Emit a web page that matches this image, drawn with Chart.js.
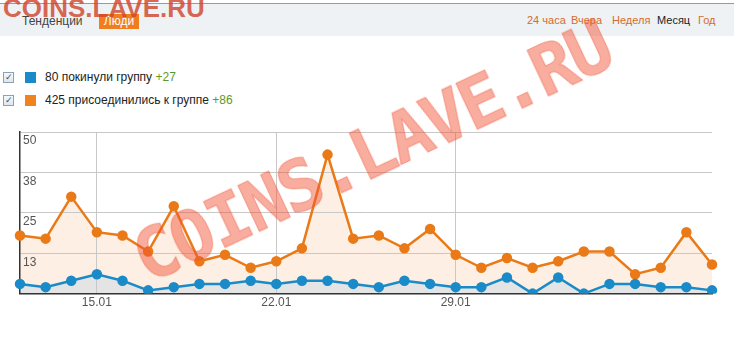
<!DOCTYPE html>
<html>
<head>
<meta charset="utf-8">
<script src="https://cdn.jsdelivr.net/npm/chart.js@4/dist/chart.umd.min.js"></script>
<style>
  html, body { margin:0; padding:0; background:#fff; width:737px; height:340px; overflow:hidden; font-family:"Liberation Sans", Arial, sans-serif; }
  #bar { position:absolute; left:0; top:3px; width:734px; height:32px; background:#eef2f4; border-top:1px solid #9a9a9a; }
  .t { position:absolute; font-size:12px; white-space:nowrap; }
  #trend { left:22px; top:14px; color:#444; }
  #people { left:99px; top:14px; width:40px; height:15px; background:#f07e1e; color:#fff; line-height:15px; text-align:center; }
  .lnk { top:14px; color:#d46c2e; font-size:11px; }
  .cb { position:absolute; left:3px; width:9px; height:9px; border:1px solid #8aa1b8; background:linear-gradient(#f6f8fa,#dfe6ec); font-size:9px; line-height:9px; text-align:center; color:#2b4f7a; }
  .sq { position:absolute; left:25px; width:11px; height:11px; }
  .lg { position:absolute; left:45px; font-size:12px; color:#222; white-space:nowrap; }
  .lg span { color:#5a9a2a; }
  #wrap { position:absolute; left:0; top:118px; width:737px; height:194px; }
  #wm1 { position:absolute; left:3px; top:-7px; font-family:"Liberation Sans", Arial, sans-serif; font-weight:bold; font-size:26px; color:rgba(208,70,45,0.82); }
  #wm2 { position:absolute; left:120px; top:225px; font-family:"DejaVu Sans Mono", monospace; font-weight:bold; font-size:70px; letter-spacing:-2.3px; color:rgba(240,80,50,0.47); transform:rotate(-25.1deg); transform-origin:0 0; white-space:nowrap; pointer-events:none; -webkit-text-stroke:1px rgba(240,80,50,0.47); }
</style>
</head>
<body>
<div id="bar"></div>
<div class="t" id="trend">Тенденции</div>
<div class="t" id="people">Люди</div>
<div class="t lnk" style="left:527px">24 часа</div>
<div class="t lnk" style="left:571px">Вчера</div>
<div class="t lnk" style="left:612px">Неделя</div>
<div class="t lnk" style="left:657px;color:#222">Месяц</div>
<div class="t lnk" style="left:698px">Год</div>

<div class="cb" style="top:72px">✓</div>
<div class="sq" style="top:72px;background:#1a8bc8"></div>
<div class="lg" style="top:70px">80 покинули группу <span>+27</span></div>
<div class="cb" style="top:95px">✓</div>
<div class="sq" style="top:95px;background:#f0831e"></div>
<div class="lg" style="top:93px">425 присоединились к группе <span>+86</span></div>

<div id="wrap"><canvas id="c"></canvas></div>
<div id="wm1">COINS.LAVE.RU</div>
<div id="wm2">COINS.LAVE.RU</div>

<script>
const dates = ['12.01','13.01','14.01','15.01','16.01','17.01','18.01','19.01','20.01','21.01','22.01','23.01','24.01','25.01','26.01','27.01','28.01','29.01','30.01','31.01','01.02','02.02','03.02','04.02','05.02','06.02','07.02','08.02'];
const leftGroup = [3,2,4,6,4,1,2,3,3,4,3,4,4,3,2,4,3,2,2,5,0,5,0,3,3,2,2,1];
const joinedGroup = [18,17,30,19,18,13,27,10,12,8,10,14,43,17,18,14,20,12,8,11,8,10,13,13,6,8,19,9];
const shownDates = ['15.01','22.01','29.01'];
const yMax = 50;
const yStep = 12.5;

new Chart(document.getElementById('c'), {
  type: 'line',
  data: {
    labels: dates,
    datasets: [
      {
        label: 'покинули группу',
        data: leftGroup,
        borderColor: '#1a8bc8',
        backgroundColor: '#e4e4e4',
        fill: 'origin',
        borderWidth: 2.5,
        pointRadius: 4,
        pointBackgroundColor: '#1a8bc8',
        pointBorderColor: '#1a8bc8',
        tension: 0
      },
      {
        label: 'присоединились к группе',
        data: joinedGroup,
        borderColor: '#e97a17',
        backgroundColor: '#fdefe3',
        fill: 'origin',
        borderWidth: 2.5,
        pointRadius: 4,
        pointBackgroundColor: '#e97a17',
        pointBorderColor: '#e97a17',
        tension: 0
      }
    ]
  },
  options: {
    responsive: true,
    maintainAspectRatio: false,
    animation: false,
    layout: { padding: { left: 14, right: 25, top: 14, bottom: 0 } },
    plugins: {
      legend: { display: false },
      tooltip: { enabled: false },
      filler: { drawTime: 'beforeDraw' }
    },
    scales: {
      x: {
        offset: false,
        grid: {
          drawTicks: false,
          color: (ctx) => (ctx.tick && shownDates.includes(dates[ctx.index])) ? '#c8c8c8' : 'rgba(0,0,0,0)'
        },
        border: { color: '#333', width: 1.5 },
        ticks: {
          autoSkip: false,
          maxRotation: 0,
          padding: 2,
          color: '#555',
          font: { family: 'Liberation Sans', size: 12 },
          callback: (v, i) => shownDates.includes(dates[i]) ? dates[i] : ''
        }
      },
      y: {
        min: 0,
        max: yMax,
        grid: { drawTicks: false, color: '#c8c8c8' },
        border: { color: '#333', width: 1.5 },
        ticks: {
          stepSize: yStep,
          mirror: true,
          padding: 3,
          labelOffset: 9,
          color: '#555',
          font: { family: 'Liberation Sans', size: 12 },
          callback: (v) => v === 0 ? '' : String(Math.round(v))
        }
      }
    }
  }
});
</script>
</body>
</html>
